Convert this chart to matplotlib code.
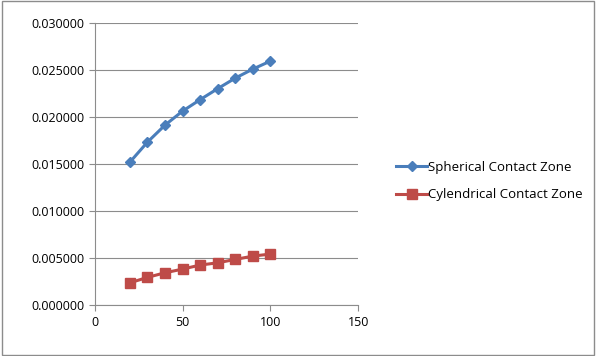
import matplotlib.pyplot as plt
import numpy as np

# Data
x = [20, 30, 40, 50, 60, 70, 80, 90, 100]
spherical = [0.01521, 0.01734, 0.01915, 0.02064, 0.02186, 0.02303, 0.02415, 0.02511, 0.02596]
cylindrical = [0.00237, 0.00295, 0.00344, 0.00383, 0.00426, 0.00450, 0.00486, 0.00521, 0.00543]

plt.rcParams['font.family'] = ['Open Sans', 'DejaVu Sans']

fig = plt.figure(figsize=(5.96, 3.56), dpi=100)
ax = fig.add_axes([0.159, 0.143, 0.442, 0.792])

ax.plot(x, spherical, '-D', color='#4A7EBB', markersize=5, linewidth=2.2, label='Spherical Contact Zone')
ax.plot(x, cylindrical, '-s', color='#BE4B48', markersize=7, linewidth=2.2, label='Cylendrical Contact Zone')

ax.set_xlim(0, 150)
ax.set_ylim(0, 0.03)
ax.set_xticks([0, 50, 100, 150])
ax.set_yticks(np.arange(0, 0.0301, 0.005))
ax.yaxis.set_major_formatter(plt.FormatStrFormatter('%.6f'))
ax.grid(axis='y', color='#8C8C8C', linewidth=0.8)
ax.set_axisbelow(True)

for s in ['top', 'right']:
    ax.spines[s].set_visible(False)
for s in ['left', 'bottom']:
    ax.spines[s].set_color('#8C8C8C')
ax.tick_params(colors='#8C8C8C', labelcolor='black', labelsize=9, length=4)

ax.legend(loc='center left', bbox_to_anchor=(1.1, 0.44), frameon=False, fontsize=9.5,
          handlelength=2.3, handletextpad=0.1, labelspacing=1.1)

# Bingkai luar
fig.patches.append(plt.Rectangle((0.003, 0.004), 0.994, 0.992, transform=fig.transFigure,
                                 fill=False, edgecolor='#8C8C8C', linewidth=1))

plt.savefig('out.png', dpi=100)
